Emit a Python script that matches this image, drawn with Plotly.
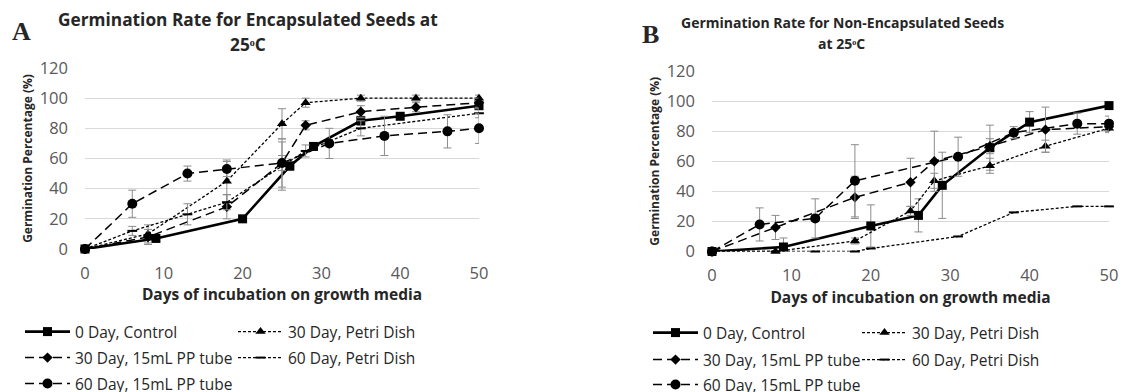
import plotly.graph_objects as go

W, H = 1122, 392

# ---------------- Data: Panel A (Encapsulated) ----------------
a_ctrl_x = [0, 9, 20, 26, 29, 35, 40, 50]
a_ctrl_y = [0, 7, 20, 55, 68, 85, 88, 95]
a_ctrl_e = [0, 1, 1, 3, 2, 3, 2, 2]

a_p30_x = [0, 8, 18, 25, 28, 35, 42, 50]
a_p30_y = [0, 10, 45, 83, 97, 100, 100, 100]
a_p30_e = [0, 6, 14, 10, 3, 2, 2, 2]

a_t30_x = [0, 8, 18, 25, 28, 35, 42, 50]
a_t30_y = [0, 8, 28, 57, 82, 91, 94, 97]
a_t30_e = [0, 5, 8, 5, 3, 4, 3, 3]

a_p60_x = [0, 6, 13, 18, 25, 28, 35, 50]
a_p60_y = [0, 12, 23, 31, 55, 65, 80, 90]
a_p60_e = [0, 3, 7, 5, 16, 4, 5, 3]

a_t60_x = [0, 6, 13, 18, 25, 31, 38, 46, 50]
a_t60_y = [0, 30, 50, 53, 57, 70, 75, 78, 80]
a_t60_e = [0, 9, 5, 5, 16, 10, 13, 11, 10]

# ---------------- Data: Panel B (Non-Encapsulated) ----------------
b_ctrl_x = [0, 9, 20, 26, 29, 35, 40, 50]
b_ctrl_y = [0, 3, 17, 24, 44, 69, 86, 97]
b_ctrl_e = [0, 6, 14, 11, 22, 15, 7, 2]

b_p30_x = [0, 8, 18, 25, 28, 35, 42, 50]
b_p30_y = [0, 0, 7, 27, 47, 57, 70, 82]
b_p30_e = [0, 0, 2, 3, 5, 5, 4, 3]

b_t30_x = [0, 8, 18, 25, 28, 35, 42, 50]
b_t30_y = [0, 16, 36, 46, 60, 70, 81, 83]
b_t30_e = [0, 8, 14, 16, 20, 5, 15, 3]

b_p60_x = [0, 8, 13, 18, 20, 31, 38, 46, 50]
b_p60_y = [0, 0, 0, 0, 2, 10, 26, 30, 30]

b_t60_x = [0, 6, 13, 18, 31, 38, 46, 50]
b_t60_y = [0, 18, 22, 47, 63, 79, 85, 85]
b_t60_e = [0, 11, 13, 24, 13, 4, 7, 5]

names = ["0 Day, Control", "30 Day, Petri Dish", "30 Day, 15mL PP tube",
         "60 Day, Petri Dish", "60 Day, 15mL PP tube"]

x_ticks = [0, 10, 20, 30, 40, 50]
y_ticks = [0, 20, 40, 60, 80, 100, 120]

FONT = "Open Sans"
ERRC = "#8c8c8c"
TXT = "#262626"

styles = [
    dict(line=dict(color="black", width=2.6), marker=dict(symbol="square", size=9, color="black")),
    dict(line=dict(color="black", width=1.3, dash="3px,2px"), marker=dict(symbol="triangle-up", size=9, color="black")),
    dict(line=dict(color="black", width=1.5, dash="9px,5px"), marker=dict(symbol="diamond", size=8, color="black")),
    dict(line=dict(color="black", width=1.3, dash="3px,2px"), marker=dict(symbol="line-ew-open", size=7, line=dict(color="black", width=2))),
    dict(line=dict(color="black", width=1.5, dash="9px,5px"), marker=dict(symbol="circle", size=10, color="black")),
]

fig = go.Figure()

panelA = [(a_ctrl_x, a_ctrl_y, a_ctrl_e), (a_p30_x, a_p30_y, a_p30_e), (a_t30_x, a_t30_y, a_t30_e),
          (a_p60_x, a_p60_y, a_p60_e), (a_t60_x, a_t60_y, a_t60_e)]
panelB = [(b_ctrl_x, b_ctrl_y, b_ctrl_e), (b_p30_x, b_p30_y, b_p30_e), (b_t30_x, b_t30_y, b_t30_e),
          (b_p60_x, b_p60_y, None), (b_t60_x, b_t60_y, b_t60_e)]

# legend entry centres (px)
legA_pos = [(25, 332), (238, 332), (25, 358), (238, 358), (25, 384)]
legB_pos = [(653, 333), (862, 333), (653, 360), (862, 360), (653, 385)]

layout_legends = {}
li = 0
for panel, (xa, ya), pos in [(panelA, ("x", "y"), legA_pos), (panelB, ("x2", "y2"), legB_pos)]:
    for i, (xs, ys, es) in enumerate(panel):
        li += 1
        lname = "legend" if li == 1 else f"legend{li}"
        err = dict(type="data", array=es, color=ERRC, thickness=1, width=4, visible=True) if es else None
        fig.add_trace(go.Scatter(
            x=xs, y=ys, mode="lines+markers", name=names[i], xaxis=xa, yaxis=ya,
            error_y=err, legend=lname, cliponaxis=False, **styles[i]))
        px, py = pos[i]
        layout_legends[lname] = dict(
            x=(px - 5) / W, y=1 - py / H, xanchor="left", yanchor="middle",
            orientation="v", bgcolor="rgba(0,0,0,0)", borderwidth=0,
            font=dict(family=FONT, size=15.5, color=TXT), itemwidth=45)

axis_common = dict(showline=False, zeroline=False, ticks="", fixedrange=True, automargin=False,
                   tickfont=dict(family=FONT, size=16.5, color="#595959"))

def xax(dom):
    return dict(domain=dom, range=[0, 50], tickvals=x_ticks, showgrid=False,
                ticklabelstandoff=12,
                title=dict(text="<b>Days of incubation on growth media</b>", standoff=5,
                           font=dict(family=FONT, size=15.5, color=TXT)),
                **axis_common)

def yax(dom, anchor):
    return dict(domain=dom, range=[0, 120], tickvals=y_ticks, showgrid=True,
                gridcolor="#d9d9d9", gridwidth=1.3, anchor=anchor, ticklabelstandoff=16,
                title=dict(text="<b>Germination Percentage (%)</b>", standoff=4,
                           font=dict(family=FONT, size=12, color=TXT)),
                **axis_common)

fig.update_layout(
    width=W, height=H, margin=dict(l=0, r=0, t=0, b=0, autoexpand=False),
    paper_bgcolor="white", plot_bgcolor="white",
    showlegend=True,
    xaxis=dict(anchor="y", **xax([85 / W, 479 / W])),
    yaxis=yax([(H - 249) / H, (H - 68) / H], "x"),
    xaxis2=dict(anchor="y2", **xax([712 / W, 1109 / W])),
    yaxis2=yax([(H - 251.5) / H, (H - 71) / H], "x2"),
    **layout_legends,
)

ann = [
    dict(x=248 / W, y=1 - 20 / H, text="<b>Germination Rate for Encapsulated Seeds at</b>",
         font=dict(family=FONT, size=17.3, color=TXT)),
    dict(x=248 / W, y=1 - 44 / H, text="<b>25ᵒC</b>",
         font=dict(family=FONT, size=17.3, color=TXT)),
    dict(x=842 / W, y=1 - 23 / H, text="<b>Germination Rate for Non-Encapsulated Seeds</b>",
         font=dict(family=FONT, size=14, color=TXT)),
    dict(x=841 / W, y=1 - 43 / H, text="<b>at 25ᵒC</b>",
         font=dict(family=FONT, size=14, color=TXT)),
    dict(x=21 / W, y=1 - 31 / H, text="<b>A</b>",
         font=dict(family="Liberation Serif", size=26, color=TXT)),
    dict(x=650 / W, y=1 - 34 / H, text="<b>B</b>",
         font=dict(family="Liberation Serif", size=26, color=TXT)),
]
for a in ann:
    a.update(xref="paper", yref="paper", showarrow=False, xanchor="center", yanchor="middle")
fig.update_layout(annotations=ann)

fig.write_html("out.html", config={"displayModeBar": False},
               post_script="document.body.style.margin='0';document.body.style.overflow='hidden';")
